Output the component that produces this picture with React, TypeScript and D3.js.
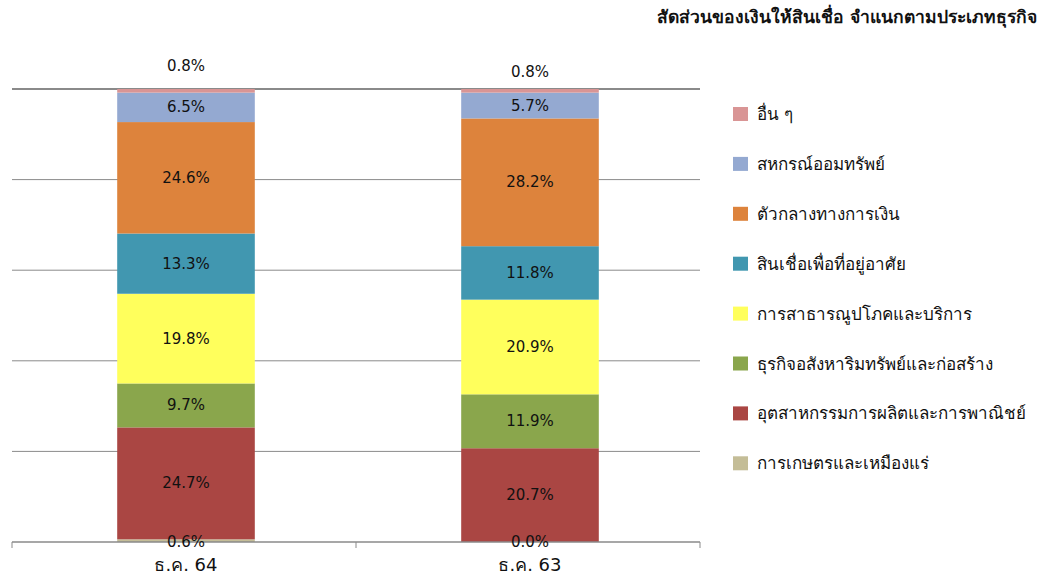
import * as d3 from "d3";
import { useRef, useEffect } from "react";

const categories = ["ธ.ค. 64", "ธ.ค. 63"];

// bottom to top
const seriesNames = [
  "การเกษตรและเหมืองแร่",
  "อุตสาหกรรมการผลิตและการพาณิชย์",
  "ธุรกิจอสังหาริมทรัพย์และก่อสร้าง",
  "การสาธารณูปโภคและบริการ",
  "สินเชื่อเพื่อที่อยู่อาศัย",
  "ตัวกลางทางการเงิน",
  "สหกรณ์ออมทรัพย์",
  "อื่น ๆ",
];

const dec64 = [0.6, 24.7, 9.7, 19.8, 13.3, 24.6, 6.5, 0.8];
const dec63 = [0.0, 20.7, 11.9, 20.9, 11.8, 28.2, 5.7, 0.8];

const seriesColors = [
  "#c4bd97",
  "#aa4643",
  "#8aa64c",
  "#ffff5c",
  "#4197b0",
  "#dd833c",
  "#94a9d1",
  "#d99595",
];

const yTicks = [0, 20, 40, 60, 80, 100];
const title = "สัดส่วนของเงินให้สินเชื่อ จำแนกตามประเภทธุรกิจ";

export default function App() {
  const svgRef = useRef<SVGSVGElement | null>(null);

  useEffect(() => {
    const svg = d3.select(svgRef.current);
    svg.selectAll("*").remove();

    const font = "Tahoma, 'DejaVu Sans', 'Noto Sans', sans-serif";
    const plotL = 12, plotR = 700, plotT = 89, plotB = 542;

    const x = d3.scaleBand<string>().domain(categories).range([plotL, plotR]).paddingInner(0.6).paddingOuter(0.3);
    const y = d3.scaleLinear().domain([0, 100]).range([plotB, plotT]);

    const g = svg.append("g").attr("font-family", font);

    // gridlines
    g.selectAll("line.grid")
      .data(yTicks.slice(1))
      .join("line")
      .attr("x1", plotL)
      .attr("x2", plotR)
      .attr("y1", d => y(d))
      .attr("y2", d => y(d))
      .attr("stroke", "#8a8a8a")
      .attr("stroke-width", d => (d === 100 ? 2 : 1));

    const values = [dec64, dec63];
    const rows = categories.map((c, i) => {
      const r: any = { cat: c };
      seriesNames.forEach((s, j) => (r[s] = values[i][j]));
      return r;
    });
    const stack = d3.stack<any>().keys(seriesNames)(rows);

    stack.forEach((layer, j) => {
      g.selectAll(`rect.s${j}`)
        .data(layer)
        .join("rect")
        .attr("x", d => x(d.data.cat)! + 2)
        .attr("width", x.bandwidth())
        .attr("y", d => y(d[1]))
        .attr("height", d => Math.max(0, y(d[0]) - y(d[1])))
        .attr("fill", seriesColors[j]);
    });

    // axis
    const axis = g.append("g");
    axis.append("line")
      .attr("x1", plotL).attr("x2", plotR)
      .attr("y1", plotB).attr("y2", plotB)
      .attr("stroke", "#8a8a8a").attr("stroke-width", 1.5);
    const tickXs = [plotL, ...categories.slice(1).map(c => x(c)! - (x.step() - x.bandwidth()) / 2), plotR];
    axis.selectAll("line.tick")
      .data(tickXs)
      .join("line")
      .attr("x1", d => d).attr("x2", d => d)
      .attr("y1", plotB).attr("y2", plotB + 6)
      .attr("stroke", "#8a8a8a");

    axis.selectAll("text.cat")
      .data(categories)
      .join("text")
      .attr("x", d => x(d)! + x.bandwidth() / 2 + 2)
      .attr("y", 571)
      .attr("text-anchor", "middle")
      .attr("font-size", 18)
      .attr("fill", "#111")
      .text(d => d);

    // data labels
    stack.forEach((layer, j) => {
      g.selectAll(`text.l${j}`)
        .data(layer)
        .join("text")
        .attr("x", d => x(d.data.cat)! + x.bandwidth() / 2 + 2)
        .attr("y", (d, i) => {
          if (j === 0) return y(0) + 5;
          if (j === seriesNames.length - 1) return y(d[1]) - (i === 0 ? 18 : 12);
          return (y(d[0]) + y(d[1])) / 2 + 5;
        })
        .attr("text-anchor", "middle")
        .attr("font-size", 15)
        .attr("fill", "#111")
        .text(d => `${(d[1] - d[0]).toFixed(1)}%`);
    });

    // legend, top item first
    const legend = g.append("g").attr("transform", "translate(733,114)");
    const items = seriesNames.map((s, j) => ({ s, c: seriesColors[j] })).reverse();
    const li = legend.selectAll("g.item")
      .data(items)
      .join("g")
      .attr("transform", (_, i) => `translate(0,${i * 49.9})`);
    li.append("rect")
      .attr("x", 0).attr("y", -7)
      .attr("width", 15).attr("height", 14)
      .attr("fill", d => d.c);
    li.append("text")
      .attr("x", 24).attr("y", 6)
      .attr("font-size", 17)
      .attr("fill", "#111")
      .text(d => d.s);

    g.append("text")
      .attr("x", 1037)
      .attr("y", 23)
      .attr("text-anchor", "end")
      .attr("font-size", 17.5)
      .attr("font-weight", 700)
      .attr("fill", "#111")
      .text(title);
  }, []);

  return (
    <svg
      ref={svgRef}
      width={1046}
      height={578}
      style={{ position: "absolute", left: 0, top: 0, display: "block", background: "#fff" }}
    />
  );
}
